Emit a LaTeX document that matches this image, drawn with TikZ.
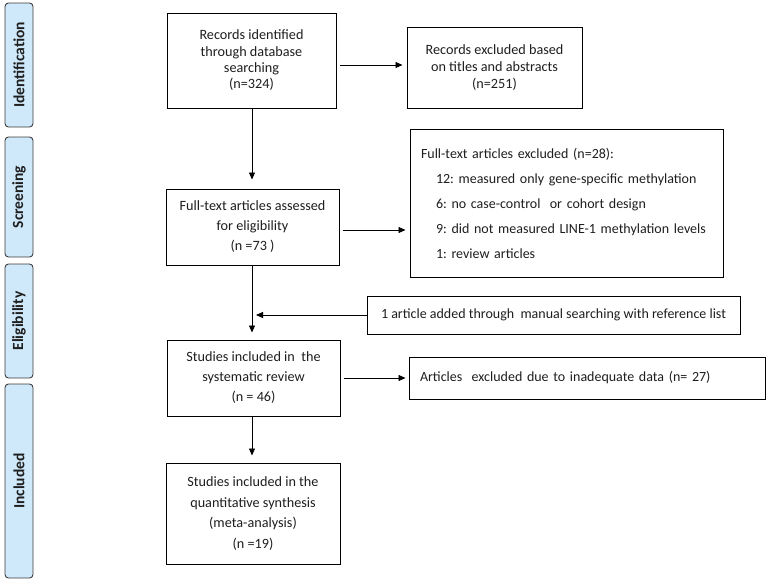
\documentclass[tikz,border=0pt]{standalone}
\usepackage{fontspec}
\setmainfont{Carlito}
\usetikzlibrary{arrows.meta}
\definecolor{sidefill}{HTML}{CFE8FA}
\definecolor{sideline}{HTML}{3C3C3C}
\definecolor{txt}{HTML}{1E1E1E}
\frenchspacing
\begin{document}
\begin{tikzpicture}[x=1pt,y=-1pt,
  every node/.style={text=txt},
  flowbox/.style={draw=black,line width=1pt,inner sep=0pt,align=center,font=\fontsize{14.2}{16.3}\selectfont},
  sidebox/.style={draw=sideline,fill=sidefill,line width=0.9pt,rounded corners=3.5pt,rotate=90,inner sep=0pt,font=\bfseries\fontsize{15.5}{17}\selectfont},
  arr/.style={draw=black,line width=0.9pt,-{Triangle[length=7pt,width=6pt]}}]
\useasboundingbox (0,0) rectangle (770,581);
% side labels
\node[sidebox,minimum width=124pt,minimum height=28pt] (sid) at (19,65) {Identification};
\node[sidebox,minimum width=120pt,minimum height=28pt] (sscr) at (19,197) {Screening};
\node[sidebox,minimum width=114pt,minimum height=28pt] (seli) at (19,321) {Eligibility};
\node[sidebox,minimum width=194pt,minimum height=28pt] (sinc) at (19,481) {Included};
% boxes
\node[flowbox,minimum width=169pt,minimum height=95pt] (b1) at (251.5,60.5)
  {Records identified\\through database\\searching\\(n=324)};
\node[flowbox,minimum width=175pt,minimum height=81pt,font=\fontsize{14.2}{17}\selectfont] (b2) at (494.5,67.5)
  {Records excluded based\\on titles and abstracts\\(n=251)};
\node[flowbox,minimum width=313pt,minimum height=148pt,text width=291pt,align=left,inner xsep=11pt,font=\fontsize{14}{25}\selectfont] (b3) at (566.5,203)
  {Full-text articles excluded (n=28):\\
   \hspace*{15pt}12: measured only gene-specific methylation\\
   \hspace*{15pt}6: no case-control\ \ or cohort design\\
   \hspace*{15pt}9: did not measured LINE-1 methylation levels\\
   \hspace*{15pt}1: review articles};
\node[flowbox,minimum width=173pt,minimum height=76pt,font=\fontsize{14.2}{20}\selectfont] (b4) at (252.5,227)
  {Full-text articles assessed\\for eligibility\\(n =73 )};
\node[flowbox,minimum width=373pt,minimum height=38pt,font=\fontsize{14}{16}\selectfont] (b5) at (553.5,315)
  {1 article added through\ \ manual searching with reference list};
\node[flowbox,minimum width=173pt,minimum height=76pt,font=\fontsize{14.2}{20}\selectfont] (b6) at (253.5,378)
  {Studies included in\ \ the\\systematic review\\(n = 46)};
\node[flowbox,minimum width=356pt,minimum height=42pt,text width=334pt,align=left,inner xsep=11pt,font=\fontsize{14}{16}\selectfont] (b7) at (587,378)
  {Articles\ \ excluded due to inadequate data (n= 27)};
\node[flowbox,minimum width=174pt,minimum height=101pt,font=\fontsize{14.2}{20.5}\selectfont] (b8) at (253,513.5)
  {Studies included in the\\quantitative synthesis\\(meta-analysis)\\(n =19)};
% helper coordinates
\coordinate (y65) at (0,65);
\coordinate (y230) at (0,230);
\coordinate (vx) at (252,0);
% connectors
\draw[arr,shorten <=3pt,shorten >=4pt] (b1.east |- y65) -- (b2.west |- y65);
\draw[arr,shorten >=9pt] (b1.south -| vx) -- (b4.north -| vx);
\draw[arr,shorten <=3pt,shorten >=4pt] (b4.east |- y230) -- (b3.west |- y230);
\draw[arr,shorten >=7pt] (b4.south -| vx) -- (b6.north -| vx);
\draw[arr,shorten >=4pt] (b5.west) -- (b5.west -| vx);
\draw[arr,shorten <=3pt,shorten >=3pt] (b6.east) -- (b7.west);
\draw[arr,shorten >=7pt] (b6.south -| vx) -- (b8.north -| vx);
\end{tikzpicture}
\end{document}
